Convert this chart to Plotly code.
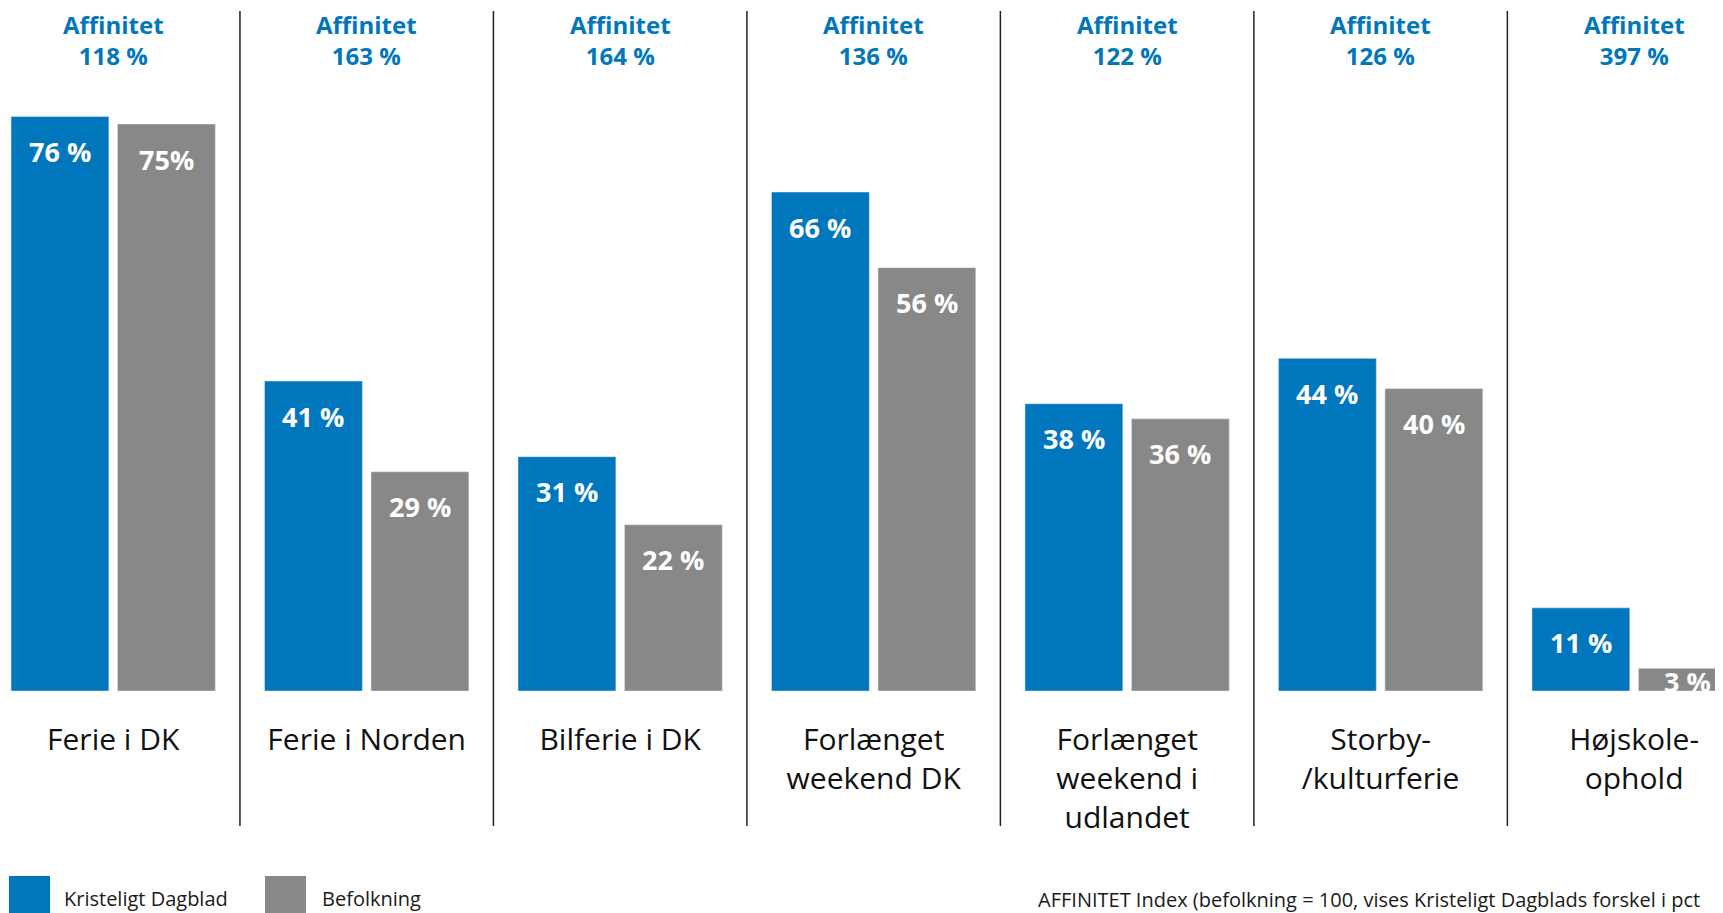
import plotly.graph_objects as go

categories = ["Ferie i DK", "Ferie i Norden", "Bilferie i DK", "Forlænget weekend DK",
              "Forlænget weekend i udlandet", "Storby-/kulturferie", "Højskoleophold"]
tick_labels = ["Ferie i DK", "Ferie i Norden", "Bilferie i DK", "Forlænget<br>weekend DK",
               "Forlænget<br>weekend i<br>udlandet", "Storby-<br>/kulturferie", "Højskole-<br>ophold"]
kd_values = [76, 41, 31, 66, 38, 44, 11]
bef_values = [75, 29, 22, 56, 36, 40, 3]
kd_labels = ["76 %", "41 %", "31 %", "66 %", "38 %", "44 %", "11 %"]
bef_labels = ["75%", "29 %", "22 %", "56 %", "36 %", "40 %", "3 %"]
affinitet = [118, 163, 164, 136, 122, 126, 397]
series_names = ["Kristeligt Dagblad", "Befolkning"]
footer = "AFFINITET Index (befolkning = 100, vises Kristeligt Dagblads forskel i pct"

BLUE = "#0077BC"
GRAY = "#888888"
FONT = "Open Sans"

# the page body adds an 8px margin, so the figure is sized to fit the window
W, H = 1715, 905
MB = 222
plot_h = H - MB
px_per_pct = 7.56
x_range = [-0.415, 6.3507]
step_px = W / (x_range[1] - x_range[0])
bar_w = 0.386

fig = go.Figure()
fig.add_trace(go.Bar(x=categories, y=kd_values, name=series_names[0], marker_color=BLUE,
                     width=bar_w, offset=-0.403, showlegend=False))
fig.add_trace(go.Bar(x=categories, y=bef_values, name=series_names[1], marker_color=GRAY,
                     width=bar_w, offset=0.017, showlegend=False))

annotations = []
for vals, labs, shift in [(kd_values, kd_labels, -0.21), (bef_values, bef_labels, 0.21)]:
    for c, v, t in zip(categories, vals, labs):
        drop = min(35, v * px_per_pct * 0.57)
        annotations.append(dict(x=c, y=v, xref="x", yref="y", text=t, showarrow=False,
                                xshift=shift * step_px, yshift=-drop, yanchor="middle",
                                font=dict(family=FONT, size=27, color="white", weight="bold")))


def py(p):
    return (plot_h - p) / plot_h


for c, a in zip(categories, affinitet):
    annotations.append(dict(x=c, y=py(-2), xref="x", yref="paper",
                            text=f"Affinitet<br>{a} %", showarrow=False, yanchor="top",
                            font=dict(family=FONT, size=24, color=BLUE, weight="bold")))

shapes = []
for i in range(len(categories) - 1):
    shapes.append(dict(type="line", xref="x", yref="paper", x0=i + 0.5, x1=i + 0.5,
                       y0=py(3), y1=py(818), line=dict(color="#222222", width=1.5)))

# legend
for name, col, x0, tx in [(series_names[0], BLUE, 1, 54), (series_names[1], GRAY, 257, 312)]:
    shapes.append(dict(type="rect", xref="paper", yref="paper", x0=x0 / W, x1=(x0 + 41) / W,
                       y0=py(868), y1=py(909), fillcolor=col, line=dict(width=0)))
    annotations.append(dict(x=tx / W, y=py(890), xref="paper", yref="paper", text=name,
                            showarrow=False, xanchor="left", yanchor="middle",
                            font=dict(family=FONT, size=20, color="#1a1a1a")))
annotations.append(dict(x=1028 / W, y=py(891), xref="paper", yref="paper", text=footer,
                        showarrow=False, xanchor="left", yanchor="middle",
                        font=dict(family=FONT, size=20, color="#1a1a1a")))

fig.update_layout(
    width=W, height=H, margin=dict(l=0, r=0, t=0, b=MB),
    paper_bgcolor="white", plot_bgcolor="white",
    barmode="group",
    xaxis=dict(range=x_range, tickmode="array", tickvals=categories, ticktext=tick_labels,
               showgrid=False, showline=False, zeroline=False,
               ticks="outside", ticklen=22, tickcolor="rgba(0,0,0,0)",
               tickfont=dict(family=FONT, size=30, color="#111111")),
    yaxis=dict(range=[0, plot_h / px_per_pct], visible=False, showgrid=False),
    shapes=shapes, annotations=annotations,
)
fig.write_html("out.html")
